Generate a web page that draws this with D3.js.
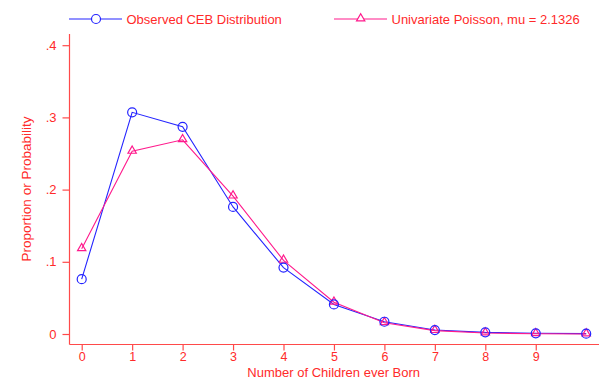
<!DOCTYPE html>
<html>
<head>
<meta charset="utf-8">
<script src="https://cdn.jsdelivr.net/npm/d3@7/dist/d3.min.js"></script>
<style>
html,body{margin:0;padding:0;background:#fff;}
svg{display:block;font-family:"Liberation Sans",Arial,sans-serif;}
</style>
</head>
<body>
<svg id="chart" width="600" height="379"></svg>
<script>
// Data
const children = [0, 1, 2, 3, 4, 5, 6, 7, 8, 9, 10];
const observed = [0.076, 0.307, 0.287, 0.176, 0.092, 0.041, 0.017, 0.0055, 0.0023, 0.001, 0.0005];
const poisson  = [0.118, 0.253, 0.269, 0.191, 0.102, 0.044, 0.0155, 0.0047, 0.0013, 0.0003, 0.0001];
const xTicks = [0, 1, 2, 3, 4, 5, 6, 7, 8, 9];
const yTicks = [0, 0.1, 0.2, 0.3, 0.4];
const yTickLabels = ["0", ".1", ".2", ".3", ".4"];
const seriesNames = ["Observed CEB Distribution", "Univariate Poisson, mu = 2.1326"];

const textRed = "#ff2a2a", axisRed = "#ff4a4a", blue = "#2424ff", pink = "#ff1a8c";

const svg = d3.select("#chart");
const x = d3.scaleLinear().domain([0, 10]).range([81.7, 586.2]);
const y = d3.scaleLinear().domain([0, 0.4]).range([334, 45.2]);

// Axes lines
svg.append("line").attr("x1", 69.5).attr("x2", 69.5).attr("y1", 34).attr("y2", 344.5)
  .attr("stroke", axisRed).attr("stroke-width", 1.2);
svg.append("line").attr("x1", 69.5).attr("x2", 599).attr("y1", 344.5).attr("y2", 344.5)
  .attr("stroke", axisRed).attr("stroke-width", 1.2);

// Y axis
const yAxis = d3.axisLeft(y).tickValues(yTicks).tickSize(7).tickPadding(6)
  .tickFormat((d, i) => yTickLabels[i]);
const gy = svg.append("g").attr("transform", "translate(69.5,0)").call(yAxis);
gy.select(".domain").remove();
gy.selectAll(".tick line").attr("stroke", axisRed).attr("stroke-width", 1.2);
gy.selectAll(".tick text").attr("fill", textRed).attr("font-size", 13)
  .attr("font-family", "Liberation Sans, Arial, sans-serif");

// X axis
const xAxis = d3.axisBottom(x).tickValues(xTicks).tickSize(6).tickPadding(2)
  .tickFormat(d3.format("d"));
const gx = svg.append("g").attr("transform", "translate(0,344.5)").call(xAxis);
gx.select(".domain").remove();
gx.selectAll(".tick line").attr("stroke", axisRed).attr("stroke-width", 1.2);
gx.selectAll(".tick text").attr("fill", textRed).attr("font-size", 12.5)
  .attr("font-family", "Liberation Sans, Arial, sans-serif");

// Axis titles
svg.append("text").attr("x", 333.7).attr("y", 376.5).attr("text-anchor", "middle")
  .attr("fill", textRed).attr("font-size", 13).text("Number of Children ever Born");
svg.append("text").attr("transform", "translate(30.5,189) rotate(-90)").attr("text-anchor", "middle")
  .attr("fill", textRed).attr("font-size", 13.5).text("Proportion or Probability");

// Series
const line = d3.line().x((d, i) => x(children[i])).y(d => y(d));
svg.append("path").datum(observed).attr("d", line).attr("fill", "none")
  .attr("stroke", blue).attr("stroke-width", 1.1);
svg.append("path").datum(poisson).attr("d", line).attr("fill", "none")
  .attr("stroke", pink).attr("stroke-width", 1.1);

const tri = d3.symbol().type(d3.symbolTriangle).size(30);
svg.append("g").selectAll("path").data(poisson).join("path")
  .attr("d", tri).attr("transform", (d, i) => `translate(${x(children[i])},${y(d) - 0.5})`)
  .attr("fill", "none").attr("stroke", pink).attr("stroke-width", 1.2);
svg.append("g").selectAll("circle").data(observed).join("circle")
  .attr("cx", (d, i) => x(children[i])).attr("cy", d => y(d)).attr("r", 4.5)
  .attr("fill", "none").attr("stroke", blue).attr("stroke-width", 1.2);

// Legend
const leg = svg.append("g");
leg.append("line").attr("x1", 69).attr("x2", 122).attr("y1", 19).attr("y2", 19)
  .attr("stroke", blue).attr("stroke-width", 1.1);
leg.append("circle").attr("cx", 96).attr("cy", 19).attr("r", 4.5)
  .attr("fill", "#fff").attr("stroke", blue).attr("stroke-width", 1.2);
leg.append("text").attr("x", 126.5).attr("y", 23.5).attr("fill", textRed)
  .attr("font-size", 13).text(seriesNames[0]);
leg.append("line").attr("x1", 334).attr("x2", 387).attr("y1", 19).attr("y2", 19)
  .attr("stroke", pink).attr("stroke-width", 1.1);
leg.append("path").attr("d", tri).attr("transform", "translate(360.7,18.5)")
  .attr("fill", "#fff").attr("stroke", pink).attr("stroke-width", 1.2);
leg.append("text").attr("x", 391.5).attr("y", 23.5).attr("fill", textRed)
  .attr("font-size", 13).text(seriesNames[1]);
</script>
</body>
</html>
